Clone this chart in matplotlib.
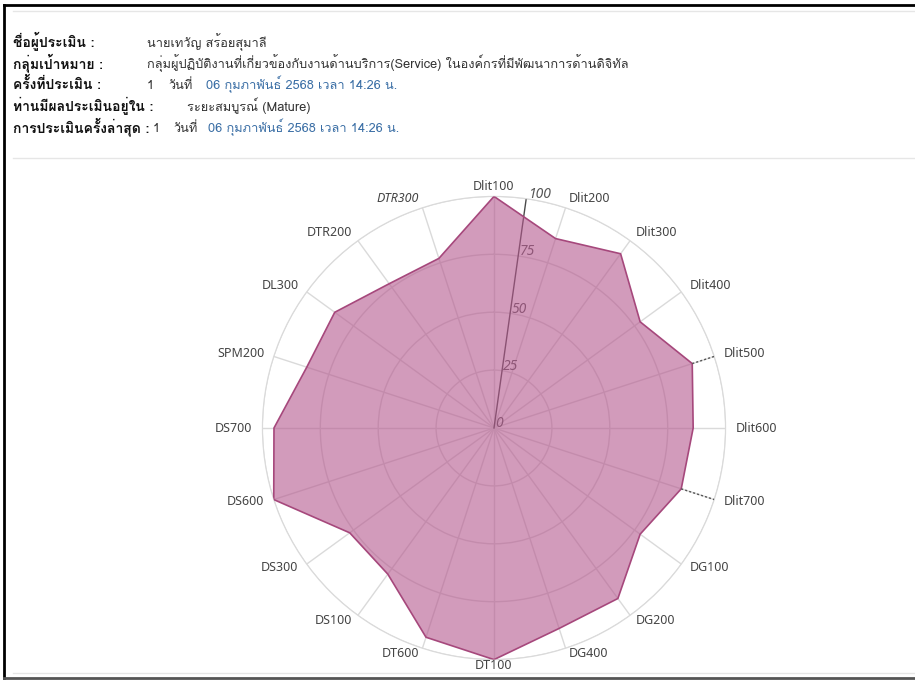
import numpy as np
import matplotlib
matplotlib.use("Agg")
import matplotlib.pyplot as plt
from matplotlib import font_manager
from matplotlib.ft2font import FT2Font
from matplotlib.lines import Line2D

categories = ["Dlit100", "Dlit200", "Dlit300", "Dlit400", "Dlit500", "Dlit600",
              "Dlit700", "DG100", "DG200", "DG400", "DT100", "DT600", "DS100",
              "DS300", "DS600", "DS700", "SPM200", "DL300", "DTR200", "DTR300"]
scores = [100, 86, 93, 78, 90, 86, 85, 78, 91, 91, 100, 95, 78, 77, 100, 95,
          85, 85, 77, 77]
dotted_to_full = ["Dlit500", "Dlit700"]
radial_ticks = [0, 25, 50, 75, 100]

header_labels = ["ชื่อผู้ประเมิน :", "กลุ่มเป้าหมาย :", "ครั้งที่ประเมิน :",
                 "ท่านมีผลประเมินอยู่ใน :", "การประเมินครั้งล่าสุด :"]
assessor = "นายเทวัญ สร้อยสุมาลี"
target_group = "กลุ่มผู้ปฏิบัติงานที่เกี่ยวข้องกับงานด้านบริการ(Service) ในองค์กรที่มีพัฒนาการด้านดิจิทัล"
round_no = "1"
date_word = "วันที่"
date_text = "06 กุมภาพันธ์ 2568 เวลา 14:26 น."
level_text = "ระยะสมบูรณ์ (Mature)"


def find_thai_font():
    regular, bold = None, None
    for f in font_manager.fontManager.ttflist:
        try:
            cmap = FT2Font(f.fname).get_charmap()
        except Exception:
            continue
        if 0x0E01 not in cmap:
            continue
        w = f.weight if isinstance(f.weight, int) else 400
        if w >= 600:
            bold = bold or f.name
        else:
            regular = regular or f.name
    return regular or bold or "DejaVu Sans"


thai = find_thai_font()
fam = [thai, "Noto Sans", "DejaVu Sans"]

fig = plt.figure(figsize=(9.15, 6.8), dpi=100)
W, H = 915, 680


def fx(px):
    return px / W


def fy(py):
    return 1 - py / H


# page frame
fig.add_artist(Line2D([fx(4), fx(4)], [fy(5), fy(678)], color="black", lw=2))
fig.add_artist(Line2D([fx(4), 1], [fy(5), fy(5)], color="black", lw=2))
fig.add_artist(Line2D([fx(4), 1], [fy(678), fy(678)], color="#555555", lw=2))
for yy in (11, 158, 673):
    fig.add_artist(Line2D([fx(13), 1], [fy(yy), fy(yy)], color="#e6e6e6", lw=1))

# header (baselines)
ys = [47, 68, 89, 111, 132]
for lbl, yy in zip(header_labels, ys):
    fig.text(fx(13), fy(yy), lbl, family=fam, fontsize=10, weight="bold",
             color="#111111", va="baseline")
tc = "#333333"
blue = "#3a6ea5"
fs = 9.2


def put(x, row, s, color=tc):
    fig.text(fx(x), fy(ys[row]), s, family=fam, fontsize=fs, color=color,
             va="baseline")


put(147, 0, assessor)
put(147, 1, target_group)
put(147, 2, round_no)
put(168, 2, date_word)
put(206, 2, date_text, blue)
put(187, 3, level_text)
put(153, 4, round_no)
put(173, 4, date_word)
put(208, 4, date_text, blue)

# radar
cx, cy, R = 494, 428, 231.6
ax = fig.add_axes([fx(cx - R), fy(cy + R), 2 * R / W, 2 * R / H], projection="polar")
ax.set_theta_zero_location("N")
ax.set_theta_direction(-1)
n = len(categories)
angles = np.arange(n) * 2 * np.pi / n
ax.set_ylim(0, 100)
ax.set_xticks(angles)
ax.set_xticklabels([])
ax.set_yticks(radial_ticks[1:])
ax.set_yticklabels([])
ax.tick_params(length=0)
ax.grid(color="#dadada", lw=1)
ax.spines["polar"].set_color("#dadada")
ax.set_facecolor("white")

# radial scale axis
t0 = np.deg2rad(8)
ax.plot([t0, t0], [0, 100], color="#4a4a4a", lw=1, zorder=2)
for v in radial_ticks:
    ax.annotate(str(v), xy=(t0, v), xytext=(1, 3), textcoords="offset points",
                ha="left", va="center", style="italic", color="#555555",
                fontsize=10, family=["Noto Sans"], zorder=2)

a_closed = np.append(angles, angles[0])
s_closed = np.append(scores, scores[0])
ax.fill(a_closed, s_closed, color="#b5588e", alpha=0.6, lw=0, zorder=3)
ax.plot(a_closed, s_closed, color="#a6487c", lw=1.2, zorder=4)

for c in dotted_to_full:
    i = categories.index(c)
    ax.plot([angles[i], angles[i]], [scores[i], 100], color="#555555", lw=1,
            ls=(0, (1.5, 1.5)), zorder=4)

for lbl, a in zip(categories, angles):
    s, co = np.sin(a), np.cos(a)
    ha = "left" if s > 0.1 else ("right" if s < -0.1 else "center")
    pad_y = 10 if co > 0 else 6
    ax.annotate(lbl, xy=(a, 100), xytext=(10 * s * 0.72, pad_y * co * 0.72),
                textcoords="offset points", ha=ha, va="center",
                style="italic" if lbl == "DTR300" else "normal",
                color="#444444", fontsize=9, family=["Noto Sans"], zorder=5,
                annotation_clip=False)

fig.savefig("out.png", dpi=100, facecolor="white")
